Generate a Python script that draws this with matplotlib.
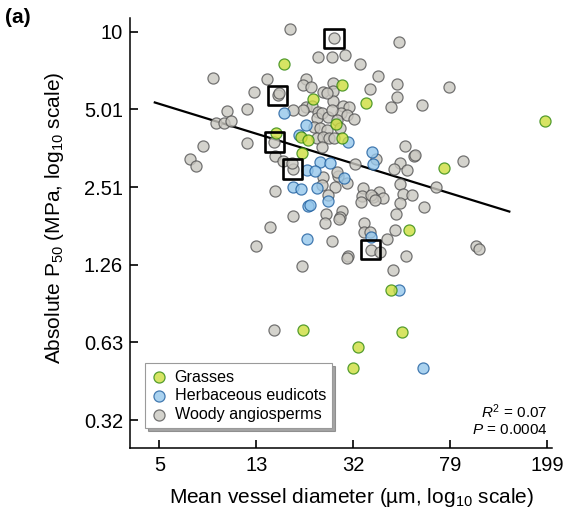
import matplotlib
matplotlib.use('Agg')
import matplotlib.pyplot as plt
import numpy as np

plt.rcParams['font.family'] = ['Liberation Sans', 'DejaVu Sans']
plt.rcParams['mathtext.fontset'] = 'custom'
plt.rcParams['mathtext.rm'] = 'Liberation Sans'
plt.rcParams['mathtext.it'] = 'Liberation Sans:italic'

# mean vessel diameter (um) and absolute P50 (MPa)
woody_d = [17.3, 26.3, 22.6, 25.8, 29.2, 33.6, 8.33, 13.9, 20.1, 39.9,
           12.3, 15.4, 15.6, 37.0, 9.51, 11.5, 8.57, 9.24, 9.88, 7.57,
           6.69, 7.09, 11.5, 14.9, 17.8, 15.0, 17.8, 14.3, 24.3, 28.3,
           34.9, 48.7, 47.8, 47.8, 45.1, 60.6, 78.3, 51.5, 56.2, 89.4,
           49.2, 46.4, 52.5, 39.1, 49.2, 69.2, 40.3, 38.0, 41.8, 50.6,
           55.1, 49.2, 61.7, 47.3, 46.9, 43.5, 52.0, 101, 104, 46.0,
           24.1, 34.9, 25.8, 12.5, 30.0, 29.7, 37.3, 19.4, 14.9, 19.6,
           21.1, 26.0, 23.7, 26.0, 26.0, 20.1, 21.3, 22.6, 28.6, 30.3,
           28.1, 29.7, 31.8, 22.4, 23.4, 24.8, 25.8, 27.0, 21.7, 23.0,
           24.6, 27.8, 22.4, 23.7, 25.0, 26.3, 23.4, 56.7, 15.0, 16.2,
           17.6, 32.1, 23.7, 27.3, 29.7, 26.5, 24.8, 34.6, 34.3, 34.0,
           37.3, 38.8, 27.8, 27.5, 40.6, 37.0, 24.6, 27.0, 19.6, 17.8,
           23.4]
woody_p = [10.2, 9.45, 7.98, 7.98, 8.13, 7.50, 6.62, 6.57, 6.57, 6.74,
           5.85, 5.69, 5.80, 6.00, 4.94, 5.03, 4.44, 4.44, 4.52, 3.62,
           3.22, 3.03, 3.72, 3.75, 2.95, 2.43, 1.94, 1.76, 1.98, 2.03,
           1.82, 9.12, 6.28, 5.59, 5.12, 5.21, 6.11, 3.62, 3.31, 3.17,
           3.11, 2.95, 2.92, 3.22, 2.58, 2.51, 2.40, 2.30, 2.28, 2.36,
           2.34, 2.18, 2.10, 1.98, 1.71, 1.58, 1.36, 1.49, 1.45, 1.20,
           1.82, 1.68, 1.55, 1.49, 1.36, 1.34, 1.44, 1.24, 0.705, 6.23,
           6.11, 6.34, 5.85, 5.90, 5.40, 5.12, 5.16, 4.90, 5.16, 5.12,
           4.85, 4.77, 4.60, 4.64, 4.85, 4.68, 4.98, 4.56, 4.28, 4.25,
           4.17, 4.25, 3.89, 3.92, 3.89, 3.89, 3.59, 3.34, 3.31, 3.17,
           3.11, 3.08, 2.75, 2.77, 2.60, 2.51, 2.34, 2.49, 2.32, 2.20,
           2.34, 2.24, 1.92, 1.89, 1.41, 1.68, 5.80, 2.87, 4.98, 4.98,
           2.55]

herb_d = [16.3, 20.1, 30.0, 37.7, 38.0, 17.8, 19.2, 22.4, 20.5, 20.9,
          24.8, 23.0, 25.3, 20.3, 21.9, 28.9, 20.3, 37.3, 48.7, 61.1, 18.8]
herb_p = [4.85, 4.36, 3.75, 3.43, 3.08, 2.51, 2.47, 2.49, 2.12, 2.14,
          2.22, 3.14, 3.11, 2.92, 2.90, 2.72, 1.58, 1.61, 1.005, 0.502, 3.99]

grass_d = [16.3, 28.3, 21.5, 35.6, 26.8, 19.2, 20.5, 28.3, 19.4, 15.1,
           195, 74.6, 53.5, 45.1, 50.1, 19.6, 33.0, 31.5]
grass_p = [7.50, 6.23, 5.50, 5.30, 4.40, 3.92, 3.82, 3.89, 3.40, 4.06,
           4.52, 2.97, 1.71, 1.005, 0.692, 0.705, 0.605, 0.502]

# highlighted species
boxed_d = [26.3, 15.4, 14.9, 17.8, 37.3]
boxed_p = [9.45, 5.69, 3.75, 2.95, 1.44]

# fitted line ends
fit_d = [4.8, 139]
fit_p = [5.33, 2.02]

x_ticks = [10 ** 0.7, 10 ** 1.1, 10 ** 1.5, 10 ** 1.9, 10 ** 2.3]
x_labels = ['5', '13', '32', '79', '199']
y_ticks = [10, 10 ** 0.7, 10 ** 0.4, 10 ** 0.1, 10 ** -0.2, 10 ** -0.5]
y_labels = ['10', '5.01', '2.51', '1.26', '0.63', '0.32']

fig = plt.figure(figsize=(5.68, 5.08), dpi=100)
ax = fig.add_axes([130 / 568, 1 - 448 / 508, 422 / 568, 430 / 508])

ax.plot(fit_d, fit_p, color='black', lw=1.6, zorder=2)

ax.scatter(woody_d, woody_p, s=64, c='#cac8c1', edgecolors='#555555',
           linewidths=0.9, alpha=0.8, zorder=3, label='Woody angiosperms')
ax.scatter(herb_d, herb_p, s=64, c='#95c7ec', edgecolors='#1f5f9f',
           linewidths=0.9, alpha=0.8, zorder=4, label='Herbaceous eudicots')
ax.scatter(grass_d, grass_p, s=64, c='#cdde3d', edgecolors='#318810',
           linewidths=0.9, alpha=0.8, zorder=5, label='Grasses')
ax.scatter(boxed_d, boxed_p, s=190, marker='s', facecolors='none',
           edgecolors='black', linewidths=1.9, zorder=6)

ax.set_xscale('log')
ax.set_yscale('log')
ax.set_xlim(10 ** 0.579, 10 ** 2.319)
ax.set_ylim(10 ** -0.608, 10 ** 1.053)
ax.set_xticks(x_ticks)
ax.set_xticklabels(x_labels)
ax.set_yticks(y_ticks)
ax.set_yticklabels(y_labels)
ax.minorticks_off()
ax.tick_params(direction='in', length=6, width=1.2, labelsize=14.5)
ax.tick_params(axis='x', pad=6)
ax.tick_params(axis='y', pad=5)

for s in ['top', 'right']:
    ax.spines[s].set_visible(False)
for s in ['left', 'bottom']:
    ax.spines[s].set_linewidth(1.1)

ax.set_xlabel('Mean vessel diameter (µm, log$_{10}$ scale)', fontsize=15)
ax.set_ylabel('Absolute P$_{50}$ (MPa, log$_{10}$ scale)', fontsize=15)
ax.xaxis.set_label_coords(0.525, -0.088)
ax.yaxis.set_label_coords(-0.152, 0.535)

handles, labels = ax.get_legend_handles_labels()
leg = ax.legend(handles[::-1], labels[::-1], loc='lower left',
                bbox_to_anchor=(0.035, 0.046), borderaxespad=0,
                fontsize=11.6, fancybox=False, shadow=True,
                edgecolor='#9a9a9a', framealpha=1, labelspacing=0.22,
                handletextpad=0.45, handlelength=1.0, borderpad=0.4)
leg.get_frame().set_linewidth(0.8)

ax.text(0.99, 0.085, '$R^2$ = 0.07', transform=ax.transAxes,
        ha='right', va='center', fontsize=11)
ax.text(0.99, 0.043, '$P$ = 0.0004', transform=ax.transAxes,
        ha='right', va='center', fontsize=11)

fig.text(0.008, 0.966, '(a)', fontsize=15, weight='bold', va='center')

fig.savefig('out.png', dpi=100)
